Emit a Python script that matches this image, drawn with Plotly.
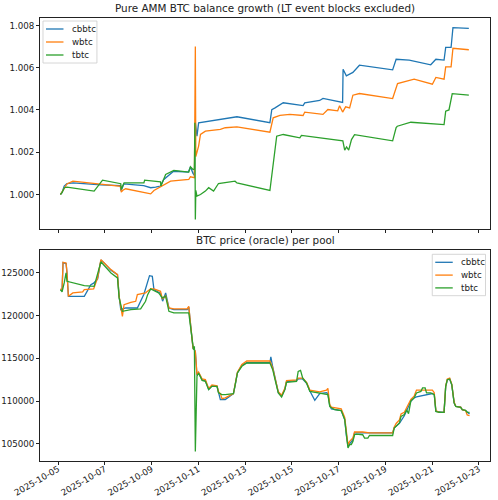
import pandas as pd
import plotly.graph_objects as go
from plotly.subplots import make_subplots

START = pd.Timestamp("2025-10-05")

# --- balance growth (days since 2025-10-05, ratio to start balance) ---
cbbtc_bal_days = [0.10, 0.17, 0.26, 0.38, 0.64, 1.83, 2.66, 2.68, 2.72, 2.81,
                  3.66, 3.91, 3.96, 4.17, 4.38, 4.51, 4.81, 4.94, 5.57, 5.66,
                  5.77, 5.83, 5.87, 5.91, 5.94, 6.01, 6.51, 6.94, 7.65, 9.06,
                  9.14, 9.28, 9.63, 10.48, 10.55, 11.19, 11.33, 12.17, 12.19, 12.33,
                  12.61, 12.89, 14.31, 14.46, 15.02, 15.94, 16.16, 16.51, 16.58, 16.81,
                  16.89, 17.57]
cbbtc_bal = [1.0000, 1.0001, 1.0004, 1.00052, 1.00055, 1.00045, 1.00042, 1.00022, 1.00025, 1.0005,
             1.00042, 1.00035, 1.00032, 1.00035, 1.0004, 1.0007, 1.00095, 1.0011, 1.00106, 1.0013,
             1.0010, 1.0009, 1.0034, 1.0030, 1.00276, 1.00339, 1.00347, 1.00355, 1.00368, 1.0034,
             1.00402, 1.0041, 1.00434, 1.00421, 1.00434, 1.00445, 1.00455, 1.00436, 1.00593, 1.00562,
             1.00578, 1.00612, 1.0059, 1.0064, 1.00636, 1.00614, 1.0064, 1.00636, 1.00696, 1.00696,
             1.0079, 1.00786]

wbtc_bal_days = [0.10, 0.21, 0.38, 0.63, 2.68, 2.70, 2.77, 2.89, 3.96, 4.10,
                 4.52, 4.81, 5.59, 5.66, 5.83, 5.85, 5.87, 5.89, 6.01, 6.09,
                 6.30, 6.94, 7.15, 7.65, 9.06, 9.20, 9.49, 9.91, 10.48, 10.55,
                 11.33, 11.54, 11.96, 12.04, 12.17, 12.30, 12.47, 12.61, 12.89, 14.31,
                 14.52, 15.23, 16.01, 16.16, 16.51, 16.58, 16.81, 16.89, 17.57]
wbtc_bal = [1.0000, 1.0002, 1.0005, 1.00063, 1.00039, 1.00011, 1.0002, 1.00027, 1.00003, 1.00019,
            1.00047, 1.00063, 1.00071, 1.00084, 1.0008, 1.0037, 1.0070, 1.0018, 1.00229, 1.00284,
            1.0030, 1.00308, 1.00316, 1.0032, 1.00295, 1.00363, 1.00374, 1.00379, 1.00374, 1.0039,
            1.00379, 1.00402, 1.00396, 1.0042, 1.0039, 1.00415, 1.0041, 1.0047, 1.00478, 1.00454,
            1.00525, 1.00546, 1.00522, 1.00554, 1.00546, 1.00604, 1.00604, 1.00692, 1.00685]

tbtc_bal_days = [0.10, 0.17, 0.27, 0.38, 1.54, 1.76, 1.90, 2.68, 2.70, 2.82,
                 3.67, 3.70, 4.38, 4.40, 4.60, 4.95, 5.59, 5.66, 5.77, 5.83,
                 5.85, 5.87, 5.89, 5.94, 6.09, 6.30, 6.44, 6.65, 6.86, 7.57,
                 7.65, 9.06, 9.20, 9.35, 9.63, 10.34, 10.41, 11.87, 12.18, 12.26,
                 12.34, 12.43, 12.55, 12.68, 14.31, 14.46, 14.51, 15.09, 16.51, 16.58,
                 16.72, 16.86, 17.57]
tbtc_bal = [1.0000, 1.0001, 1.00032, 1.00035, 1.00016, 1.00047, 1.00068, 1.00051, 1.00024, 1.00055,
            1.00055, 1.00068, 1.0006, 1.0004, 1.00095, 1.00114, 1.00106, 1.00131, 1.00118, 1.0012,
            1.0034, 0.99882, 1.0002, 0.99992, 1.0000, 1.00016, 1.00032, 1.00016, 1.00052, 1.00063,
            1.00055, 1.00019, 1.00134, 1.00276, 1.00284, 1.00268, 1.0028, 1.0026, 1.00254, 1.0021,
            1.00225, 1.0021, 1.0026, 1.00283, 1.00254, 1.00317, 1.00323, 1.00342, 1.00331, 1.00394,
            1.004, 1.00477, 1.0047]

# --- oracle BTC price per pool ---
cbbtc_px_days = [0.10, 0.17, 0.21, 0.34, 0.38, 0.44, 1.12, 1.40, 1.52, 1.69,
                 1.83, 1.97, 2.26, 2.54, 2.61, 2.68, 2.89, 3.39, 3.67, 3.91,
                 4.03, 4.10, 4.38, 4.47, 4.60, 4.74, 4.95, 5.52, 5.59, 5.66,
                 5.77, 5.83, 5.87, 5.94, 6.01, 6.16, 6.30, 6.44, 6.58, 6.80,
                 6.86, 6.94, 7.15, 7.50, 7.57, 7.67, 7.86, 8.07, 9.06, 9.10,
                 9.18, 9.28, 9.42, 9.56, 9.70, 9.77, 10.20, 10.27, 10.46, 10.63,
                 10.77, 10.98, 11.19, 11.48, 11.54, 11.62, 11.69, 12.11, 12.26, 12.33,
                 12.40, 12.47, 12.61, 12.68, 12.75, 13.32, 14.31, 14.38, 14.60, 14.81,
                 15.09, 15.23, 15.33, 16.01, 16.09, 16.16, 16.51, 16.58, 16.65, 16.75,
                 16.84, 16.94, 17.01, 17.22, 17.29, 17.43, 17.60]
cbbtc_px = [123000, 123000, 126200, 126100, 125000, 122260, 122260, 123630, 123800, 124300,
            126500, 126170, 125300, 124800, 122260, 120700, 120900, 120900, 122500, 124680,
            124600, 123050, 122600, 121700, 122660, 120900, 120700, 120700, 121000, 119000,
            116200, 116000, 115800, 113000, 113300, 112500, 112400, 111400, 111800, 111700,
            111000, 110180, 110200, 110900, 111800, 113300, 114200, 114500, 114500, 115180,
            114000, 112600, 111000, 110600, 111400, 112300, 112400, 112600, 112600, 112100,
            111200, 110100, 110900, 111000, 110900, 109500, 109100, 108900, 107900, 106000,
            104700, 105000, 105500, 106300, 106300, 106300, 106300, 106900, 107400, 108300,
            110000, 110400, 110500, 110900, 110800, 108800, 108700, 111700, 112500, 112600,
            111900, 109800, 109400, 109300, 109000, 108900, 108500]

wbtc_px_days = [0.10, 0.17, 0.21, 0.34, 0.38, 0.44, 0.63, 1.05, 1.12, 1.52,
                1.69, 1.83, 1.97, 2.26, 2.54, 2.61, 2.75, 2.82, 3.11, 3.32,
                3.39, 3.74, 3.82, 3.96, 4.10, 4.38, 4.46, 4.60, 4.74, 4.95,
                5.52, 5.59, 5.66, 5.77, 5.83, 5.87, 5.94, 6.01, 6.16, 6.30,
                6.44, 6.58, 6.80, 6.86, 6.94, 7.01, 7.15, 7.50, 7.57, 7.67,
                7.86, 8.07, 9.06, 9.18, 9.28, 9.42, 9.56, 9.70, 9.77, 10.20,
                10.27, 10.46, 10.63, 10.77, 11.19, 11.48, 11.54, 11.62, 11.69, 12.11,
                12.26, 12.33, 12.40, 12.47, 12.61, 12.68, 12.75, 13.03, 13.32, 14.31,
                14.38, 14.46, 14.60, 14.67, 14.81, 14.91, 15.09, 15.23, 15.33, 15.59,
                15.76, 16.01, 16.09, 16.16, 16.30, 16.51, 16.58, 16.65, 16.75, 16.84,
                16.94, 17.01, 17.22, 17.29, 17.43, 17.50, 17.60]
wbtc_px = [123130, 123050, 126240, 126170, 125070, 122260, 122660, 122780, 123050, 123130,
           124420, 126560, 126170, 125390, 124800, 122260, 119920, 121290, 121560, 121680,
           122460, 122660, 122850, 123130, 123130, 122850, 121960, 122340, 120900, 120790,
           120790, 121090, 119150, 116230, 116030, 115830, 113110, 113400, 112600, 112520,
           111500, 111900, 111800, 111100, 110900, 110300, 110400, 110900, 111900, 113400,
           114300, 114700, 114700, 113900, 112700, 111100, 110700, 111500, 112400, 112500,
           112700, 112700, 112200, 111300, 111100, 111300, 111500, 109600, 109300, 109100,
           108100, 106200, 104900, 105300, 105700, 106400, 106400, 106400, 106300, 106300,
           107000, 107400, 107800, 108500, 108700, 109200, 110200, 110600, 111300, 111300,
           111300, 111300, 111000, 108900, 108700, 108700, 111800, 112600, 112700, 112000,
           109900, 109400, 109300, 109000, 108900, 108400, 108300]

tbtc_px_days = [0.10, 0.17, 0.26, 0.34, 0.38, 1.12, 1.54, 1.83, 2.26, 2.54,
                2.61, 2.75, 3.11, 3.53, 3.74, 3.83, 3.96, 4.10, 4.30, 4.46,
                4.60, 4.74, 4.95, 5.59, 5.66, 5.79, 5.83, 5.87, 5.94, 6.01,
                6.16, 6.30, 6.44, 6.58, 6.80, 6.86, 7.01, 7.15, 7.50, 7.57,
                7.67, 7.86, 8.07, 9.06, 9.18, 9.28, 9.42, 9.56, 9.70, 9.77,
                10.20, 10.27, 10.37, 10.46, 10.63, 10.77, 11.19, 11.54, 11.62, 11.66,
                11.83, 12.11, 12.26, 12.33, 12.40, 12.47, 12.54, 12.61, 12.68, 12.75,
                13.03, 13.11, 13.25, 13.32, 14.31, 14.38, 14.46, 14.60, 14.67, 14.81,
                14.91, 14.99, 15.09, 15.23, 15.33, 15.52, 15.59, 15.70, 15.76, 15.94,
                16.09, 16.16, 16.30, 16.51, 16.58, 16.65, 16.75, 16.84, 16.94, 17.01,
                17.22, 17.29, 17.43, 17.50, 17.60]
tbtc_px = [123050, 122780, 123830, 125000, 124020, 123510, 123430, 126300, 125000, 124420,
           122080, 120510, 120710, 120790, 121680, 122460, 123130, 122970, 122660, 122080,
           122270, 120510, 120320, 120320, 118760, 116030, 116420, 104130, 112910, 113300,
           112440, 112320, 111350, 111740, 111740, 110970, 110770, 110770, 110880, 111740,
           113300, 114080, 114470, 114470, 113690, 112520, 110970, 110500, 111350, 112200,
           112320, 113490, 113610, 112720, 112130, 111150, 110970, 110770, 109400, 109300,
           109010, 108900, 107840, 105890, 104530, 104920, 104920, 105300, 106080, 106160,
           106080, 105690, 105690, 105990, 105990, 106870, 107060, 107450, 108230, 108430,
           109010, 108540, 110050, 110380, 110970, 111150, 111550, 111550, 110970, 110970,
           110770, 108810, 108700, 108700, 111740, 112520, 112600, 111940, 109800, 109400,
           109280, 109010, 108930, 108700, 108700]

pools = ["cbbtc", "wbtc", "tbtc"]
colors = {"cbbtc": "#1f77b4", "wbtc": "#ff7f0e", "tbtc": "#2ca02c"}
balance = {"cbbtc": (cbbtc_bal_days, cbbtc_bal),
           "wbtc": (wbtc_bal_days, wbtc_bal),
           "tbtc": (tbtc_bal_days, tbtc_bal)}
price = {"cbbtc": (cbbtc_px_days, cbbtc_px),
         "wbtc": (wbtc_px_days, wbtc_px),
         "tbtc": (tbtc_px_days, tbtc_px)}

W, H = 498, 500
ML, MR, MT, MB = 40, 7.5, 18, 39
PW, PH = W - ML - MR, H - MT - MB
FONT = "DejaVu Sans"
INK = "#222"


def to_time(days):
    return START + pd.to_timedelta(pd.Series(days), unit="D")


def padded(lo, hi, frac=0.05):
    pad = (hi - lo) * frac
    return lo - pad, hi + pad


def px(x, y):
    # pixel position on the page -> paper coordinates
    return (x - ML) / PW, 1 - (y - MT) / PH


fig = make_subplots(rows=2, cols=1, shared_xaxes=True, vertical_spacing=21 / PH)

for p in pools:
    d, v = balance[p]
    fig.add_trace(go.Scatter(x=to_time(d), y=v, mode="lines", name=p,
                             line=dict(color=colors[p], width=1.3),
                             showlegend=False), row=1, col=1)
for p in pools:
    d, v = price[p]
    fig.add_trace(go.Scatter(x=to_time(d), y=v, mode="lines", name=p,
                             line=dict(color=colors[p], width=1.3),
                             showlegend=False), row=2, col=1)

all_days = sum([balance[p][0] + price[p][0] for p in pools], [])
d0, d1 = padded(min(all_days), max(all_days))
x_range = [START + pd.Timedelta(days=d0), START + pd.Timedelta(days=d1)]

all_bal = sum([balance[p][1] for p in pools], [])
all_px = sum([price[p][1] for p in pools], [])

axis_style = dict(showline=True, linecolor=INK, linewidth=0.8, mirror=True,
                  ticks="outside", ticklen=3, tickwidth=0.8, tickcolor=INK,
                  showgrid=False, zeroline=False, automargin=False,
                  tickfont=dict(family=FONT, size=8.7, color=INK))

fig.update_xaxes(**axis_style, range=x_range, tick0="2025-10-05",
                 dtick=2 * 86400000, tickformat="%Y-%m-%d")
fig.update_xaxes(showticklabels=False, row=1, col=1)
fig.update_xaxes(showticklabels=True, tickangle=-30, ticklabelstandoff=-4, row=2, col=1)
fig.update_yaxes(**axis_style)
fig.update_yaxes(range=list(padded(min(all_bal), max(all_bal))),
                 dtick=0.002, tick0=1.0, tickformat=".3f", row=1, col=1)
fig.update_yaxes(range=list(padded(min(all_px), max(all_px))),
                 dtick=5000, tick0=100000, tickformat="d", row=2, col=1)

# matplotlib-style compact legends (box, line samples, labels)
shapes, notes = [], []
for box_x, box_y, box_w, row_h in [(43, 21, 54, 13), (432.7, 254.3, 53.3, 12.8)]:
    x0, y0 = px(box_x, box_y)
    x1, y1 = px(box_x + box_w, box_y + 3 * row_h + 3)
    shapes.append(dict(type="rect", xref="paper", yref="paper", x0=x0, y0=y1, x1=x1, y1=y0,
                       line=dict(color="#cccccc", width=0.8),
                       fillcolor="rgba(255,255,255,0.8)", layer="above"))
    for i, p in enumerate(pools):
        cy = box_y + 8 + i * row_h
        lx0, ly = px(box_x + 3, cy)
        lx1, _ = px(box_x + 20.5, cy)
        shapes.append(dict(type="line", xref="paper", yref="paper", x0=lx0, x1=lx1,
                           y0=ly, y1=ly, line=dict(color=colors[p], width=1.3),
                           layer="above"))
        tx, _ = px(box_x + 27, cy)
        notes.append(dict(text=p, x=tx, y=ly, xref="paper", yref="paper",
                          xanchor="left", yanchor="middle", showarrow=False,
                          font=dict(family=FONT, size=8.7, color=INK)))

top_dom = fig.layout.yaxis.domain
bot_dom = fig.layout.yaxis2.domain
for title, dom in [("Pure AMM BTC balance growth (LT event blocks excluded)", top_dom),
                   ("BTC price (oracle) per pool", bot_dom)]:
    notes.append(dict(text=title, x=0.5, y=dom[1], xref="paper", yref="paper",
                      xanchor="center", yanchor="bottom", yshift=2, showarrow=False,
                      font=dict(family=FONT, size=10.4, color=INK)))

fig.update_layout(
    width=W, height=H,
    margin=dict(l=ML, r=MR, t=MT, b=MB, autoexpand=False),
    plot_bgcolor="white", paper_bgcolor="white",
    font=dict(family=FONT, color=INK),
    showlegend=False,
    shapes=shapes,
    annotations=notes,
)

fig.write_html("out.html", config={"displayModeBar": False},
               post_script="document.body.style.margin='0';")
